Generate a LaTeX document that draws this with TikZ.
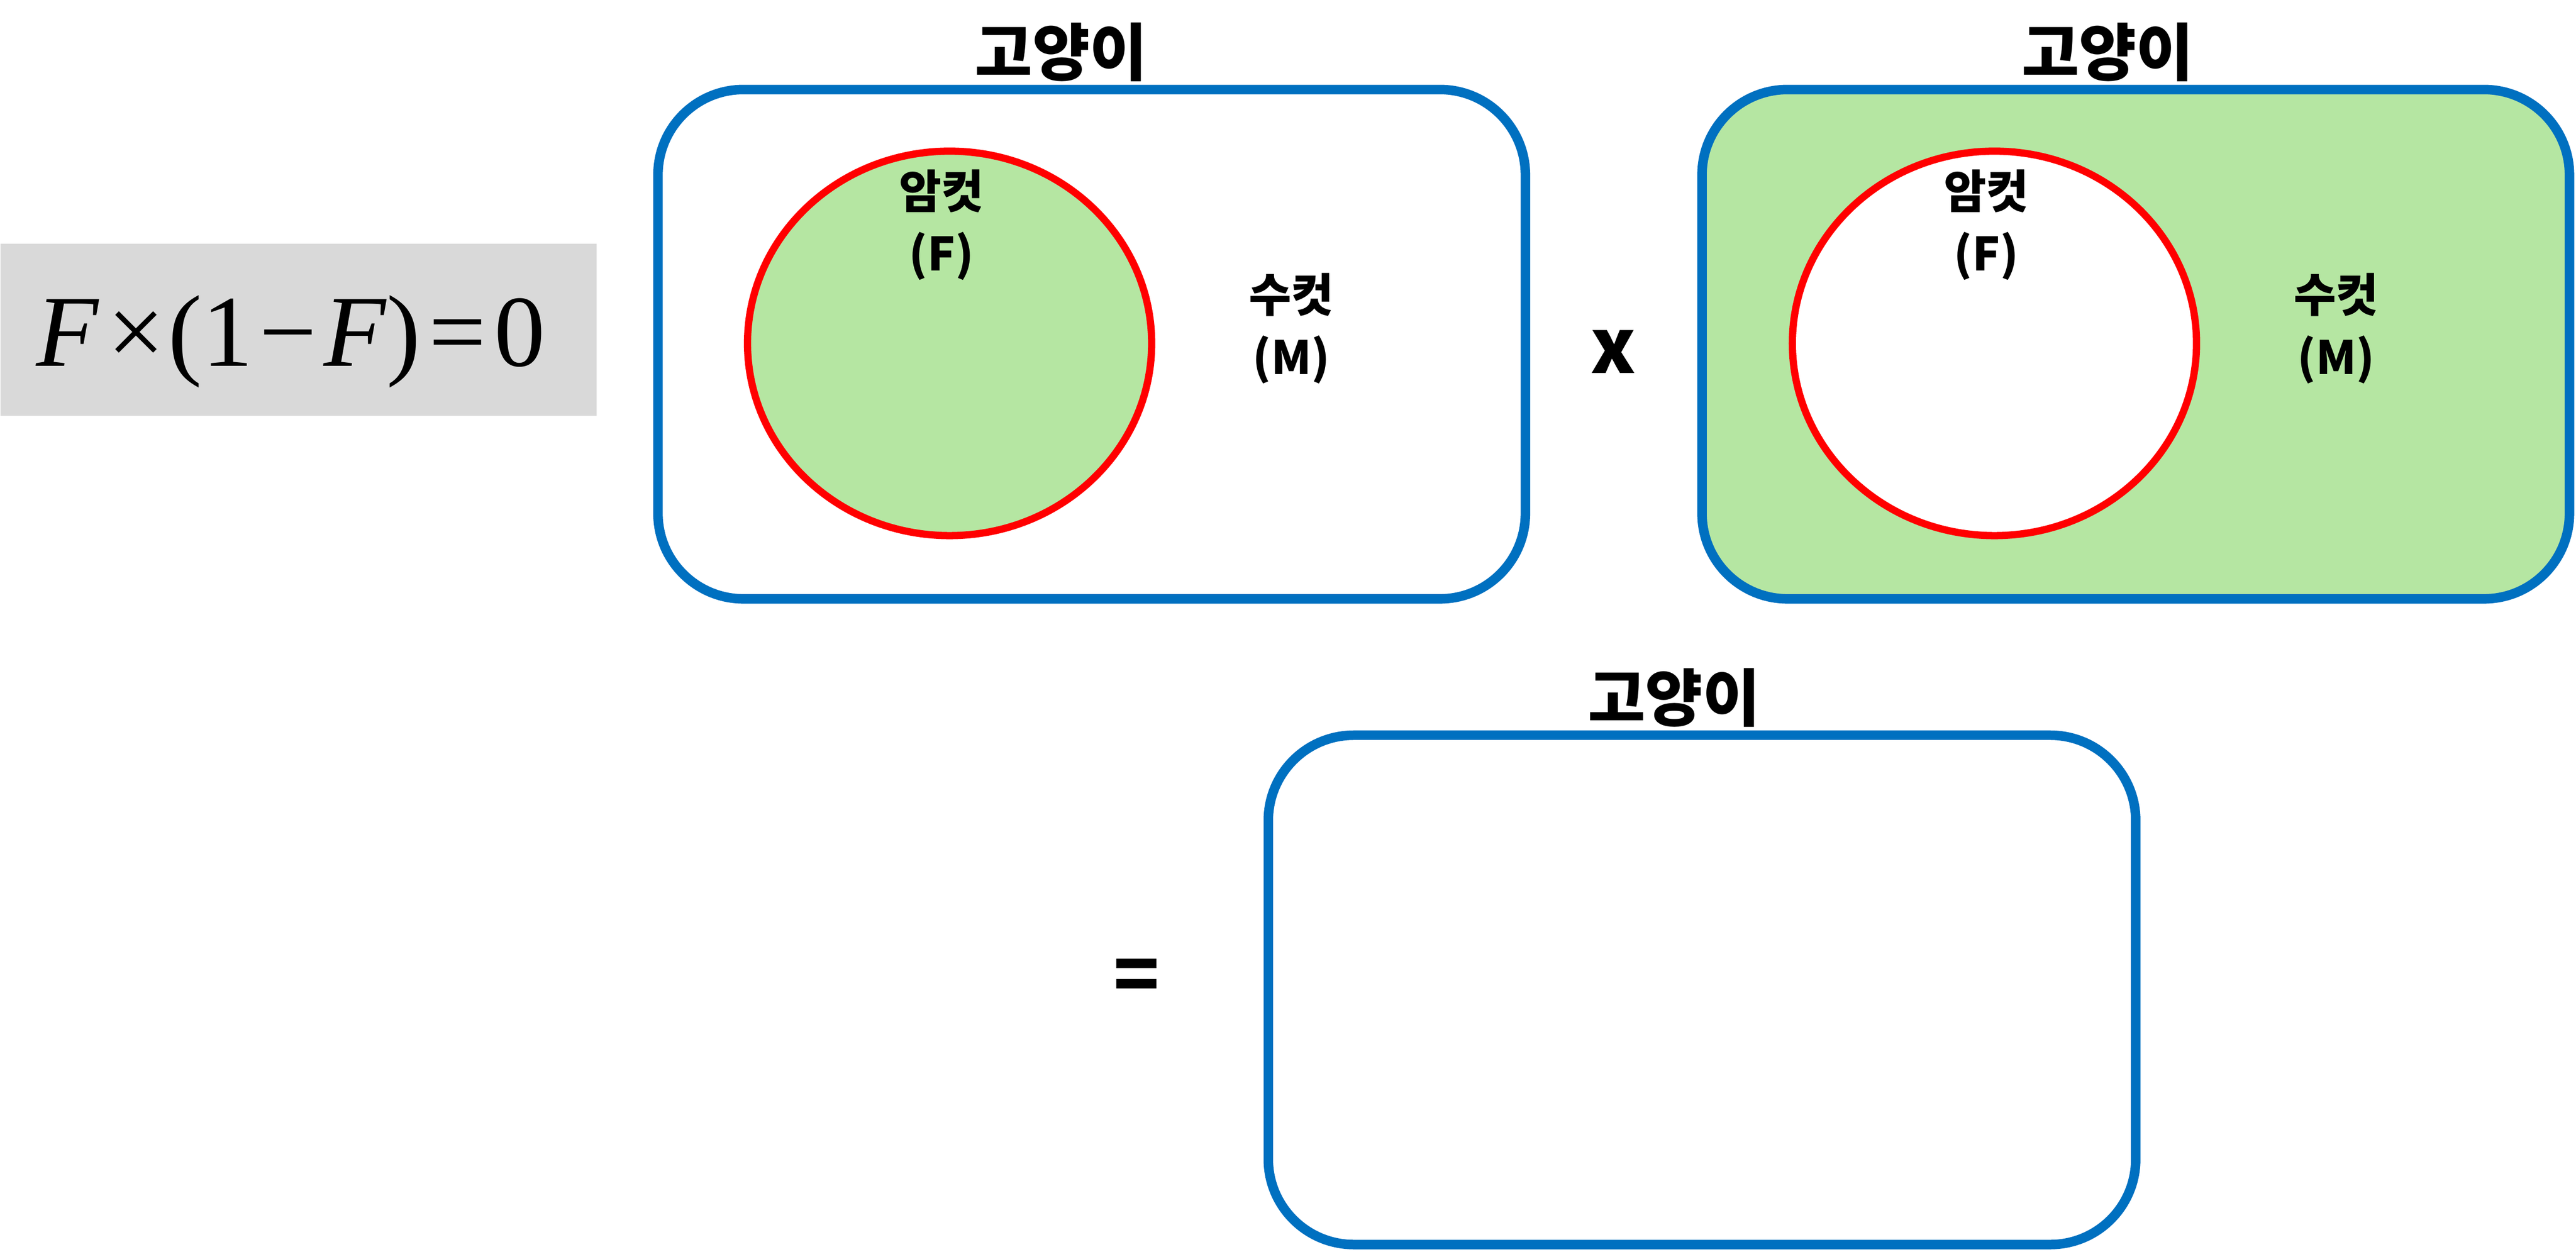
\documentclass[tikz,border=0pt]{standalone}
\usepackage{fontspec}
\newfontfamily\kor{Noto Sans CJK KR}
\newfontfamily\tnr{Liberation Serif}
\usetikzlibrary{shapes.geometric}
\definecolor{catblue}{HTML}{0070C0}
\definecolor{femred}{HTML}{FF0000}
\definecolor{setgreen}{HTML}{B5E6A2}
\definecolor{eqgray}{HTML}{D9D9D9}

\begin{document}
\begin{tikzpicture}[x=1pt, y=-1pt,
    catbox/.style = {draw=catblue, line width=5.8pt, rounded corners=52pt,
                     minimum width=528pt, minimum height=310pt, inner sep=0pt},
    fem/.style    = {draw=femred, ellipse, line width=4.4pt,
                     minimum width=246pt, minimum height=234pt, inner sep=0pt},
    title/.style  = {font=\kor\bfseries\fontsize{38}{40}\selectfont, anchor=base, inner sep=0pt},
    lbl/.style    = {font=\kor\bfseries\fontsize{28}{38}\selectfont, align=center, inner sep=0pt},
    op/.style     = {font=\kor\bfseries\fontsize{46}{48}\selectfont, inner sep=0pt}]
  \useasboundingbox (0,0) rectangle (1568,762);

  \node[fill=eqgray, minimum width=363pt, minimum height=105pt, inner sep=0pt,
        anchor=north west] (eqbox) at (0,148) {};
  \node[font=\tnr\fontsize{62}{62}\selectfont, inner sep=0pt] (formula) at (177,208)
    {\textit{F}\hspace{5pt}×\hspace{2pt}(1\hspace{4pt}−\hspace{4pt}\textit{F})\hspace{5pt}=\hspace{5pt}0};

  \node[catbox] (cat1) at (664.5,209.5) {};
  \node[title]  (title1) at (646,46) {고양이};
  \node[fem, fill=setgreen] (fem1) at (578,209) {};
  \node[lbl] (lblF1) at (573,137) {암컷\\(F)};
  \node[lbl] (lblM1) at (786,200) {수컷\\(M)};

  \node[op] (times) at (982,214) {x};

  \node[catbox, fill=setgreen] (cat2) at (1300,209.5) {};
  \node[title]  (title2) at (1283,46) {고양이};
  \node[fem, fill=white] (fem2) at (1214,209) {};
  \node[lbl] (lblF2) at (1209,137) {암컷\\(F)};
  \node[lbl] (lblM2) at (1422,200) {수컷\\(M)};

  \node[op] (equals) at (692,597) {=};

  \node[catbox] (cat3) at (1036,602.5) {};
  \node[title]  (title3) at (1019,439) {고양이};
\end{tikzpicture}
\end{document}
